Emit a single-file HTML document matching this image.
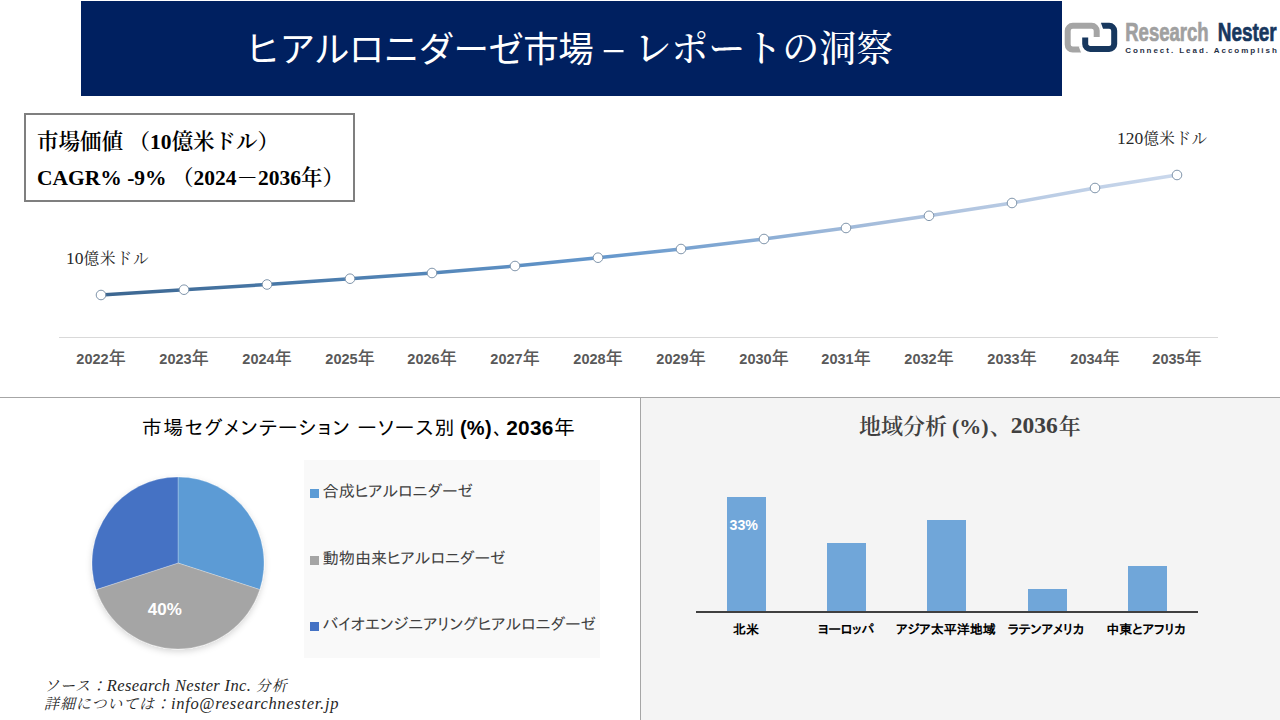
<!DOCTYPE html>
<html lang="ja">
<head>
<meta charset="utf-8">
<style>
*{margin:0;padding:0;box-sizing:border-box;}
html,body{width:1280px;height:720px;overflow:hidden;background:#fff;}
body{position:relative;font-family:"Liberation Sans","Noto Sans CJK JP",sans-serif;}
.abs{position:absolute;white-space:nowrap;}
#hdr{left:81px;top:1px;width:981px;height:95px;background:#002060;}
#title{left:163.5px;top:0;height:95px;line-height:93px;color:#fff;font-size:36px;}
#title .s{font-family:"Noto Sans CJK JP",sans-serif;font-size:35.5px;letter-spacing:-0.6px;font-weight:400;position:relative;top:-1px;}
#title .m{font-family:"Liberation Serif","Noto Serif CJK JP","Noto Serif CJK SC",serif;font-size:37px;font-weight:500;position:relative;top:-1px;}
#info{left:24px;top:113px;width:331px;height:89px;border:2px solid #7f7f7f;}
.info-t{font-family:"Liberation Serif","Noto Serif CJK JP","Noto Serif CJK SC",serif;font-weight:600;font-size:21.5px;color:#000;left:11px;}
.serif{font-family:"Liberation Serif","Noto Serif CJK JP","Noto Serif CJK SC",serif;}
.nen{font-size:17px;font-weight:500;}
.yr{font-family:"Liberation Sans","Noto Sans CJK JP",sans-serif;font-weight:bold;font-size:14.5px;color:#595959;top:344px;width:80px;text-align:center;}
#hline{left:0;top:397px;width:1280px;height:1px;background:#a6a6a6;}
#vline{left:640px;top:397px;width:1px;height:323px;background:#a6a6a6;}
#rpanel{left:641px;top:398px;width:639px;height:322px;background:#f4f4f4;}
#legend{left:304px;top:460px;width:296px;height:198px;background:#f9f9f9;}
.lg{font-family:"IPAPGothic","IPAGothic","Noto Sans CJK JP",sans-serif;font-size:16.2px;color:#404040;left:322.5px;}
.lgm{width:9px;height:9px;left:310px;}
.bar{background:#70a6d9;width:39px;}
.bl{font-family:"IPAPGothic","IPAGothic","Noto Sans CJK JP",sans-serif;font-weight:bold;font-size:13px;color:#000;top:623px;width:100px;text-align:center;}
.src{font-family:"Liberation Serif","Noto Serif CJK JP",serif;font-style:italic;font-size:15px;letter-spacing:0.9px;color:#262626;left:44px;}
.src .l{font-size:16.5px;letter-spacing:0.7px;}
</style>
</head>
<body>
<div id="hdr" class="abs">
  <div id="title" class="abs"><span class="s">ヒアルロニダーゼ市場 <span style="display:inline-block;transform:scaleX(1.25);margin-left:3.5px;position:relative;top:-1px">–</span> </span><span class="m" style="margin-left:4.5px">レポートの洞察</span></div>
</div>

<!-- logo -->
<svg class="abs" style="left:1062px;top:14px" width="218" height="45" viewBox="0 0 218 45">
  <path d="M34.7 22.9 V16.8 A5 5 0 0 0 29.7 11.8 H10.7 A5 5 0 0 0 5.7 16.8 V30.5 A5 5 0 0 0 10.7 35.5 H19.1" fill="none" stroke="#a5a5a5" stroke-width="6"/>
  <polygon points="16.7,32.3 19.6,32.3 19.6,38.7 19.1,38.7" fill="#fff"/>
  <path d="M38.9 11.8 H47.2 A5 5 0 0 1 52.2 16.8 V29.9 A5 5 0 0 1 47.2 34.9 H28.2 A5 5 0 0 1 23.2 29.9 V23.5" fill="none" stroke="#17375e" stroke-width="6"/>
  <polygon points="38.6,8.7 38.9,8.7 41.1,14.9 38.6,14.9" fill="#fff"/>
  <text x="63.2" y="27" font-family="Liberation Sans" font-weight="bold" font-size="26" fill="#a0a0a0" stroke="#a0a0a0" stroke-width="0.7" textLength="83.5" lengthAdjust="spacingAndGlyphs">Research</text>
  <text x="155.7" y="27" font-family="Liberation Sans" font-weight="bold" font-size="26" fill="#17375e" stroke="#17375e" stroke-width="0.7" textLength="59" lengthAdjust="spacingAndGlyphs">Nester</text>
  <text x="63.2" y="38.6" font-family="Liberation Sans" font-weight="bold" font-size="8" fill="#1f2f45" textLength="151.6" lengthAdjust="spacing">Connect. Lead. Accomplish</text>
</svg>

<div id="info" class="abs">
  <div class="abs info-t" style="top:9px">市場価値 （10億米ドル）</div>
  <div class="abs info-t" style="top:44.5px">CAGR% -9% （2024－2036年）</div>
</div>

<!-- line chart -->
<svg class="abs" style="left:0;top:0" width="1280" height="397" viewBox="0 0 1280 397">
  <defs>
    <linearGradient id="lg1" gradientUnits="userSpaceOnUse" x1="101" y1="0" x2="1177" y2="0">
      <stop offset="0" stop-color="#3c6690"/>
      <stop offset="0.194" stop-color="#4a7bab"/>
      <stop offset="0.464" stop-color="#6497cc"/>
      <stop offset="0.733" stop-color="#a9bfdc"/>
      <stop offset="1" stop-color="#cad8ec"/>
    </linearGradient>
  </defs>
  <line x1="59" y1="337.5" x2="1218" y2="337.5" stroke="#d9d9d9" stroke-width="1"/>
  <polyline fill="none" stroke="url(#lg1)" stroke-width="3.5" stroke-linejoin="round"
    points="101,295 184,289.7 267,284.5 350,278.7 432,273 515,266 598,257.7 681,249 764,239 846,228 929,215.8 1012,203 1095,188 1177,175"/>
  <g fill="#fff" stroke="#8095ab" stroke-width="1">
    <circle cx="101" cy="295" r="4.8"/><circle cx="184" cy="289.7" r="4.8"/><circle cx="267" cy="284.5" r="4.8"/>
    <circle cx="350" cy="278.7" r="4.8"/><circle cx="432" cy="273" r="4.8"/><circle cx="515" cy="266" r="4.8"/>
    <circle cx="598" cy="257.7" r="4.8"/><circle cx="681" cy="249" r="4.8"/><circle cx="764" cy="239" r="4.8"/>
    <circle cx="846" cy="228" r="4.8"/><circle cx="929" cy="215.8" r="4.8"/><circle cx="1012" cy="203" r="4.8"/>
    <circle cx="1095" cy="188" r="4.8"/><circle cx="1177" cy="175" r="4.8"/>
  </g>
</svg>
<div class="abs serif" style="left:66px;top:246px;font-size:15.5px;color:#262626"><span style="font-size:17.5px">10</span><span style="letter-spacing:1px">億米ドル</span></div>
<div class="abs serif" style="left:1117px;top:126px;font-size:15.5px;color:#262626"><span style="font-size:17.5px">120</span><span style="letter-spacing:0.6px">億米ドル</span></div>

<div class="abs yr" style="left:61px">2022<span class="nen">年</span></div>
<div class="abs yr" style="left:144px">2023<span class="nen">年</span></div>
<div class="abs yr" style="left:227px">2024<span class="nen">年</span></div>
<div class="abs yr" style="left:310px">2025<span class="nen">年</span></div>
<div class="abs yr" style="left:392px">2026<span class="nen">年</span></div>
<div class="abs yr" style="left:475px">2027<span class="nen">年</span></div>
<div class="abs yr" style="left:558px">2028<span class="nen">年</span></div>
<div class="abs yr" style="left:641px">2029<span class="nen">年</span></div>
<div class="abs yr" style="left:724px">2030<span class="nen">年</span></div>
<div class="abs yr" style="left:806px">2031<span class="nen">年</span></div>
<div class="abs yr" style="left:889px">2032<span class="nen">年</span></div>
<div class="abs yr" style="left:972px">2033<span class="nen">年</span></div>
<div class="abs yr" style="left:1055px">2034<span class="nen">年</span></div>
<div class="abs yr" style="left:1137px">2035<span class="nen">年</span></div>

<div id="hline" class="abs"></div>
<div id="rpanel" class="abs"></div>
<div id="vline" class="abs"></div>

<!-- bottom-left: pie -->
<div class="abs" style="left:142px;top:416px;font-family:'IPAPGothic','IPAGothic','Noto Sans CJK JP',sans-serif;font-size:20px;letter-spacing:1.3px;color:#000">市場セグメンテーション ーソース別<b style="font-family:'Liberation Sans','Noto Sans CJK JP',sans-serif;letter-spacing:0.3px;margin-left:4px">(%)</b><span style="margin-left:1px">、</span><b style="font-family:'Liberation Sans',sans-serif;letter-spacing:0.3px;font-size:20.8px;margin-left:2px">2036</b><span style="font-size:21px">年</span></div>

<svg class="abs" style="left:0;top:398px" width="640" height="322" viewBox="0 398 640 322">
  <defs><filter id="sh" x="-20%" y="-20%" width="140%" height="140%"><feDropShadow dx="0" dy="2.5" stdDeviation="3" flood-color="#000" flood-opacity="0.16"/></filter></defs>
  <g filter="url(#sh)" stroke="#fff" stroke-width="0.6" stroke-opacity="0.45" stroke-linejoin="round">
  <path d="M178 563 L178 477 A86 86 0 0 1 259.8 589.6 Z" fill="#5b9bd5"/>
  <path d="M178 563 L259.8 589.6 A86 86 0 0 1 96.2 589.6 Z" fill="#a5a5a5"/>
  <path d="M178 563 L96.2 589.6 A86 86 0 0 1 178 477 Z" fill="#4472c4"/>
  </g>
  <text x="164.8" y="615" text-anchor="middle" font-family="Liberation Sans" font-weight="bold" font-size="17" fill="#fff">40%</text>
</svg>

<div id="legend" class="abs"></div>
<div class="abs lgm" style="top:489px;background:#5b9bd5"></div>
<div class="abs lgm" style="top:556px;background:#a5a5a5"></div>
<div class="abs lgm" style="top:622px;background:#4472c4"></div>
<div class="abs lg" style="top:483px">合成ヒアルロニダーゼ</div>
<div class="abs lg" style="top:550px">動物由来ヒアルロニダーゼ</div>
<div class="abs lg" style="top:616px">バイオエンジニアリングヒアルロニダーゼ</div>

<div class="abs src" style="top:674px">ソース：<span class="l" style="letter-spacing:0.35px">Research Nester Inc.</span> 分析</div>
<div class="abs src" style="top:692px">詳細については：<span class="l">info@researchnester.jp</span></div>

<!-- bottom-right: bars -->
<div class="abs serif" style="left:859px;top:409px;font-size:22px;font-weight:600;color:#404040">地域分析<span style="margin-left:5px;font-weight:bold;letter-spacing:0px">(%)</span><span style="margin-left:1px">、</span><span style="margin-left:-1px;font-weight:bold;letter-spacing:0px;font-size:23.5px;position:relative;top:-1.5px">2036</span><span style="margin-left:1px">年</span></div>
<div class="abs bar" style="left:727px;top:497px;height:115px"></div>
<div class="abs bar" style="left:827px;top:543px;height:69px"></div>
<div class="abs bar" style="left:927px;top:520px;height:92px"></div>
<div class="abs bar" style="left:1028px;top:589px;height:23px"></div>
<div class="abs bar" style="left:1128px;top:566px;height:46px"></div>
<div class="abs" style="left:696px;top:611px;width:502px;height:2px;background:#404040"></div>
<div class="abs" style="left:729.5px;top:516.5px;font-family:'Liberation Sans',sans-serif;font-weight:bold;font-size:14.2px;color:#fff">33%</div>
<div class="abs bl" style="left:696px">北米</div>
<div class="abs bl" style="left:796px">ヨーロッパ</div>
<div class="abs bl" style="left:896px">アジア太平洋地域</div>
<div class="abs bl" style="left:996px">ラテンアメリカ</div>
<div class="abs bl" style="left:1096px">中東とアフリカ</div>
</body>
</html>
